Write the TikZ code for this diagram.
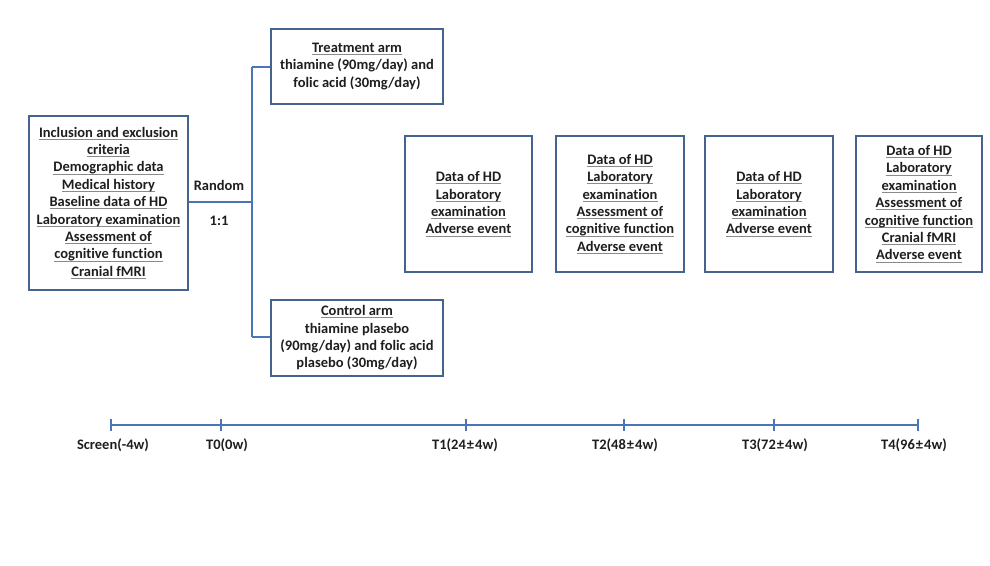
\documentclass[tikz,border=0pt]{standalone}
\usepackage{fontspec}
\setmainfont{Carlito}[Ligatures=NoCommon]
\definecolor{boxc}{HTML}{44648F}
\definecolor{linec}{HTML}{4A76B8}
\definecolor{txt}{HTML}{1E1E1E}
\definecolor{ulc}{HTML}{8A8A8A}
\newcommand\ulx[1]{\setbox0\hbox{#1}\rlap{\color{ulc}\rule[-2.6pt]{\wd0}{0.9pt}}\box0}
\newcommand\pmx{\kern1pt±\kern1pt}
\begin{document}
\begin{tikzpicture}[x=1pt,y=-1pt,
  every node/.style={text=txt,font=\bfseries\fontsize{14.5}{17.4}\selectfont,inner sep=0pt},
  boxn/.style={draw=boxc,line width=1.8pt,align=center},
  conn/.style={draw=linec,line width=1.8pt},
  tl/.style={draw=linec,line width=1.8pt},
  tick/.style={draw=linec,line width=1.4pt},
  lab/.style={anchor=center}]
\useasboundingbox (0,0) rectangle (990,565);
% left box
\node[boxn,minimum width=159pt,minimum height=174pt] (base) at (108.5,203)
 {\ulx{Inclusion and exclusion}\\ \ulx{criteria}\\ \ulx{Demographic data}\\ \ulx{Medical history}\\ \ulx{Baseline data of HD}\\ \ulx{Laboratory examination}\\ \ulx{Assessment of}\\ \ulx{cognitive function}\\ \ulx{Cranial fMRI}};
% arms
\node[boxn,minimum width=172pt,minimum height=75pt] (treat) at (357,66.5)
 {\ulx{Treatment arm}\\ thiamine (90mg/day) and\\ folic acid (30mg/day)};
\node[boxn,minimum width=172pt,minimum height=76pt] (ctrl) at (357,338)
 {\ulx{Control arm}\\ thiamine plasebo\\ (90mg/day) and folic acid\\ plasebo (30mg/day)};
% follow-up boxes
\node[boxn,minimum width=127pt,minimum height=136pt] (f1) at (468.5,204)
 {\ulx{Data of HD}\\ \ulx{Laboratory}\\ \ulx{examination}\\ \ulx{Adverse event}};
\node[boxn,minimum width=128pt,minimum height=136pt] (f2) at (620,204)
 {\ulx{Data of HD}\\ \ulx{Laboratory}\\ \ulx{examination}\\ \ulx{Assessment of}\\ \ulx{cognitive function}\\ \ulx{Adverse event}};
\node[boxn,minimum width=128pt,minimum height=136pt] (f3) at (769,204)
 {\ulx{Data of HD}\\ \ulx{Laboratory}\\ \ulx{examination}\\ \ulx{Adverse event}};
\node[boxn,minimum width=126pt,minimum height=136pt] (f4) at (919,204)
 {\ulx{Data of HD}\\ \ulx{Laboratory}\\ \ulx{examination}\\ \ulx{Assessment of}\\ \ulx{cognitive function}\\ \ulx{Cranial fMRI}\\ \ulx{Adverse event}};
% randomisation connector
\coordinate (split) at (252,202);
\coordinate (stop) at (252,67);
\coordinate (sbot) at (252,337);
\draw[conn] (base.east |- split) -- (split);
\draw[conn] (stop) -- (sbot);
\draw[conn] (stop) -- (treat.west |- stop);
\draw[conn] (sbot) -- (ctrl.west |- sbot);
\node (rand) at (219,185) {Random};
\node (ratio) at (219,221) {1:1};
% timeline
\coordinate (t0s) at (111,425);
\coordinate (t0) at (221,425);
\coordinate (t1) at (466,425);
\coordinate (t2) at (624,425);
\coordinate (t3) at (774,425);
\coordinate (t4) at (918,425);
\draw[tl] (t0s) -- (t4);
\foreach \p in {t0s,t0,t1,t2,t3,t4}{\draw[tick] ([yshift=-6pt]\p) -- ([yshift=6pt]\p);}
\node (ls) at (113,445) {Screen(-4w)};
\node (l0) at (227,445) {T0(0w)};
\node (l1) at (465,445) {T1(24\pmx4w)};
\node (l2) at (625,445) {T2(48\pmx4w)};
\node (l3) at (775,445) {T3(72\pmx4w)};
\node (l4) at (914,445) {T4(96\pmx4w)};
\end{tikzpicture}
\end{document}
